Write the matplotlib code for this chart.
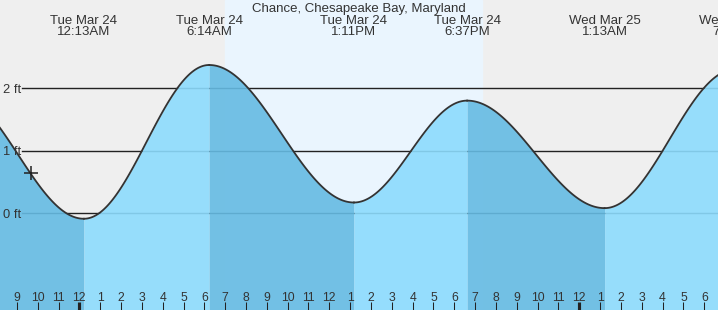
import numpy as np
import matplotlib.pyplot as plt

# tide extremes, hours from Tue Mar 24 00:00, heights in ft
ext_hours = [-6.08, 0.217, 6.233, 13.183, 18.617, 25.217, 31.48]
ext_ft = [1.95, -0.09, 2.37, 0.17, 1.80, 0.08, 2.30]
ext_day = ['Mon Mar 23', 'Tue Mar 24', 'Tue Mar 24', 'Tue Mar 24', 'Tue Mar 24', 'Wed Mar 25', 'Wed Mar 25']
ext_time = ['5:55PM', '12:13AM', '6:14AM', '1:11PM', '6:37PM', '1:13AM', '7:29AM']

sunrise, sunset = 7.0, 19.33
now_hour, now_ft = -2.32, 0.64
grid_ft = [0, 1, 2]
hour_ticks = list(range(-3, 31))

x0, x1 = -3.81, 30.66
y0, y1 = -1.55, 3.41

plt.rcParams['font.family'] = ['Liberation Sans', 'DejaVu Sans']
fig = plt.figure(figsize=(7.18, 3.10), dpi=100)
ax = fig.add_axes([0, 0, 1, 1])
ax.set_xlim(x0, x1)
ax.set_ylim(y0, y1)
ax.axis('off')
ax.axvspan(x0, x1, color='#efefef', zorder=0)
ax.axvspan(sunrise, sunset, color='#eaf5fe', zorder=0)

# grid lines, sit under the fill
gx = x0 + 22 / 20.83
for f in grid_ft:
    ax.plot([gx, x1], [f, f], color='#222222', lw=1, zorder=1)
    ax.text(x0 + 3 / 20.83, f, f'{f} ft', fontsize=9.3, color='#333333',
            va='center_baseline', ha='left', zorder=5)

# curve between extremes (cosine between high and low)
light = '#8cdbfd'
dark = '#65bbe3'
for i in range(len(ext_hours) - 1):
    ta, tb = ext_hours[i], ext_hours[i + 1]
    ha_, hb = ext_ft[i], ext_ft[i + 1]
    t = np.linspace(ta, tb, 120)
    h = ha_ + (hb - ha_) * (1 - np.cos(np.pi * (t - ta) / (tb - ta))) / 2
    col = dark if hb < ha_ else light
    ax.fill_between(t, y0, h, color=col, alpha=0.9, lw=0, zorder=2)
    ax.plot(t, h, color='#333333', lw=1.3, zorder=3)

ax.plot(now_hour, now_ft, marker='+', ms=10, mew=1.1, color='#222222', zorder=4)

# extreme labels (the one before the window is off screen)
for t, d, s in zip(ext_hours[1:], ext_day[1:], ext_time[1:]):
    ax.text(t, 2.985, d + '\n' + s, fontsize=9.5, color='#333333',
            ha='center', va='center', linespacing=0.93, zorder=5)
ax.text((x0 + x1) / 2, 3.29, 'Chance, Chesapeake Bay, Maryland', fontsize=9.5,
        color='#333333', ha='center', va='center_baseline', zorder=5)

# hour ticks along the bottom
for hr in hour_ticks:
    lab = hr % 12
    if lab == 0:
        lab = 12
    ax.text(hr, -1.335, str(lab), fontsize=8.8, color='#333333',
            ha='center', va='center_baseline', zorder=5)
    w = 3 if hr % 24 == 0 else 1
    ax.plot([hr, hr], [y0, -1.425], color='#222222', lw=w * 0.75,
            solid_capstyle='butt', zorder=5)

fig.savefig('out.png', dpi=100)
